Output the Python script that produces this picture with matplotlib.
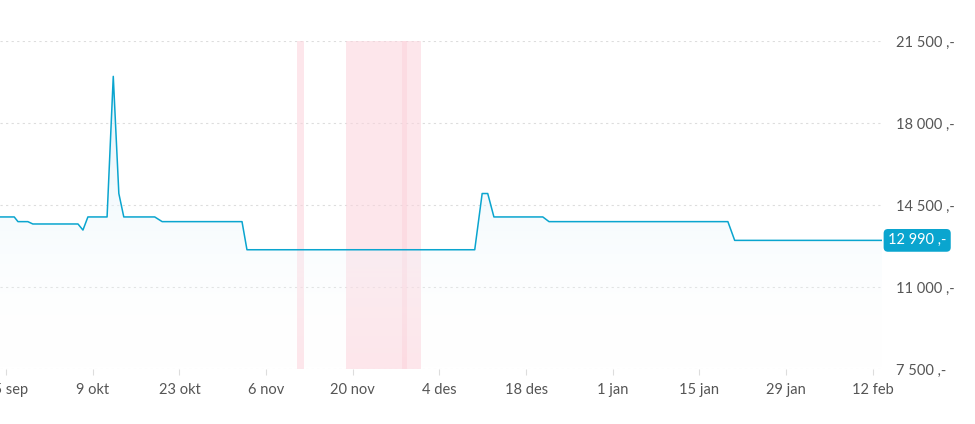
import matplotlib
matplotlib.use("Agg")
import matplotlib.pyplot as plt
import matplotlib.dates as mdates
import numpy as np
import datetime as dt

start = dt.datetime(2023, 9, 24)
day_offsets = [0, 2.3, 2.9, 4.5, 5.3, 12.6, 13.4, 14.2, 17.3, 18.3, 19.2, 20, 25, 26.2,
               39.1, 39.9, 76.7, 77.9, 78.8, 79.8, 87.7, 88.7, 117.6, 118.7, 142.5]
prices = [13990, 13990, 13790, 13790, 13690, 13690, 13430, 13990, 13990, 19990, 14990, 13990,
          13990, 13790, 13790, 12590, 12590, 14990, 14990, 13990, 13990, 13790, 13790, 12990, 12990]
bands = [(48.0, 49.1), (55.9, 68.0), (64.9, 65.8)]
yticks = [7500, 11000, 14500, 18000, 21500]
ytick_labels = ["7 500 ,-", "11 000 ,-", "14 500 ,-", "18 000 ,-", "21 500 ,-"]
xtick_dates = [dt.datetime(2023, 9, 25) + dt.timedelta(days=14 * i) for i in range(11)]
xtick_labels = ["25 sep", "9 okt", "23 okt", "6 nov", "20 nov", "4 des", "18 des",
                "1 jan", "15 jan", "29 jan", "12 feb"]
current_label = "12 990 ,-"

dates = [start + dt.timedelta(days=d) for d in day_offsets]
x = mdates.date2num(dates)

plt.rcParams['font.family'] = ['Lato', 'DejaVu Sans']
fig = plt.figure(figsize=(9.75, 4.24), dpi=100)
ax = fig.add_axes([0, 55/424, 882/975, 328/424])
xmin, xmax = x[0], x[-1]
ax.set_xlim(xmin, xmax)
ax.set_ylim(7500, 21500)

for a, b in bands:
    ax.axvspan(mdates.date2num(start + dt.timedelta(days=a)),
               mdates.date2num(start + dt.timedelta(days=b)),
               color='#fcd3dc', alpha=0.55, lw=0, zorder=1)

grad = np.linspace(0, 1, 256).reshape(-1, 1)
img = ax.imshow(grad, extent=[xmin, xmax, 7500, max(prices)], aspect='auto',
                cmap=matplotlib.colors.LinearSegmentedColormap.from_list(
                    'g', [(1, 1, 1, 0), (0.85, 0.94, 0.98, 0.8)]),
                origin='lower', zorder=2)
poly = ax.fill_between(x, prices, 7500, color='none', lw=0)
clip = matplotlib.patches.PathPatch(poly.get_paths()[0], transform=ax.transData, visible=False)
ax.add_patch(clip)
img.set_clip_path(clip)

ax.plot(x, prices, color='#0aa5cf', lw=1.1, zorder=3)

for yt in yticks:
    ax.axhline(yt, color='#dddddd', lw=0.8, ls=(0, (2, 3)), zorder=0)

ax.set_yticks(yticks)
ax.set_yticklabels(ytick_labels)
ax.yaxis.tick_right()
ax.tick_params(axis='y', length=0, pad=10, labelsize=10.5, labelcolor='#555555')
ax.set_xticks(mdates.date2num(xtick_dates))
ax.set_xticklabels(xtick_labels)
ax.tick_params(axis='x', length=4, color='#dddddd', labelsize=10.5, labelcolor='#555555', pad=6)
for s in ax.spines.values():
    s.set_visible(False)

ax.text(1.0 + 6/882, 12990, current_label, transform=ax.get_yaxis_transform(),
        va='center', ha='left', color='white', fontsize=10.5,
        bbox=dict(boxstyle='round,pad=0.3,rounding_size=0.3', fc='#0aa5cf', ec='none'),
        clip_on=False, zorder=5)

fig.savefig('out.png', dpi=100)
